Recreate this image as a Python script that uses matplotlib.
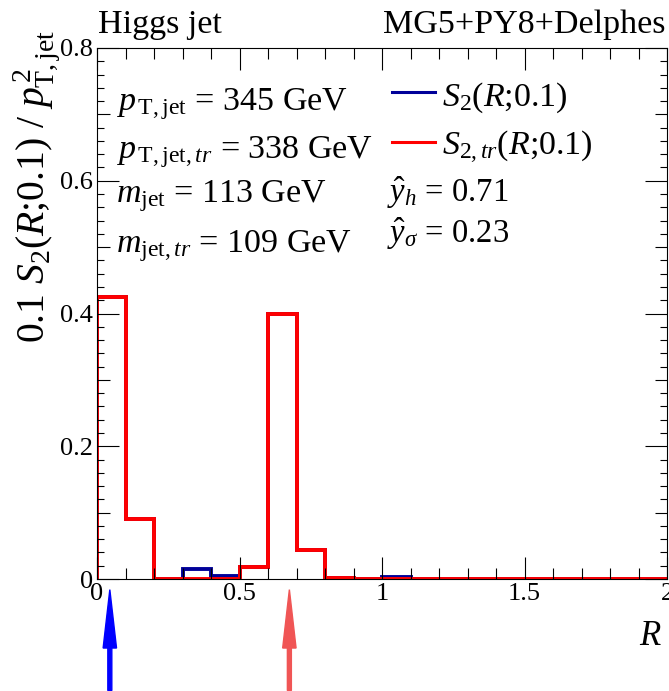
import numpy as np
import matplotlib
matplotlib.use('Agg')
import matplotlib.pyplot as plt
from matplotlib.ticker import MultipleLocator
from matplotlib.patches import FancyArrow

# ROOT-like style, Times-like font
plt.rcParams['font.family'] = ['Liberation Serif', 'DejaVu Serif']
plt.rcParams['mathtext.fontset'] = 'custom'
plt.rcParams['mathtext.rm'] = 'Liberation Serif'
plt.rcParams['mathtext.it'] = 'Liberation Serif:italic'
plt.rcParams['mathtext.bf'] = 'Liberation Serif:bold'

# data: 0.1 S2(R;0.1)/pT^2 in bins of 0.1 from 0 to 2
edges = np.round(np.arange(0, 2.01, 0.1), 2)
s2 = [0.425, 0.090, 0.0, 0.015, 0.004, 0.018, 0.400, 0.044, 0.002, 0.0,
      0.003, 0.0, 0.0, 0.0, 0.0, 0.0, 0.0, 0.0, 0.0, 0.0]
s2_tr = [0.425, 0.090, 0.0, 0.0, 0.0, 0.018, 0.400, 0.044, 0.002, 0.0,
         0.0, 0.0, 0.0, 0.0, 0.0, 0.0, 0.0, 0.0, 0.0, 0.0]
arrow_blue_x = 0.045
arrow_red_x = 0.675

fig = plt.figure(figsize=(6.69, 6.91), dpi=100)
ax = fig.add_axes([97/669, 112/691, 570/669, 531/691])

ax.stairs(s2, edges, color='#000099', lw=2.8, baseline=0)
ax.stairs(s2_tr, edges, color='#ff0000', lw=2.8, baseline=0)

ax.set_xlim(0, 2)
ax.set_ylim(0, 0.8)
ax.xaxis.set_major_locator(MultipleLocator(0.5))
ax.xaxis.set_minor_locator(MultipleLocator(0.1))
ax.yaxis.set_major_locator(MultipleLocator(0.2))
ax.yaxis.set_minor_locator(MultipleLocator(0.02))
ax.set_xticks([0, 0.5, 1, 1.5, 2], ['0', '0.5', '1', '1.5', '2'])
ax.set_yticks([0, 0.2, 0.4, 0.6, 0.8], ['0', '0.2', '0.4', '0.6', '0.8'])
ax.tick_params(which='both', direction='in', top=True, right=True, labelsize=19, width=0.8)
ax.tick_params(which='major', length=16, pad=3)
ax.tick_params(which='minor', length=5)
ax.tick_params(axis='x', which='minor', length=8)
for sp in ax.spines.values():
    sp.set_linewidth(0.8)

# medium ticks at 0.1 on y
for tick, loc in zip(ax.yaxis.get_minor_ticks(), ax.yaxis.get_minorticklocs()):
    if abs(loc * 10 - round(loc * 10)) < 1e-6:
        tick.tick1line.set_markersize(9)
        tick.tick2line.set_markersize(9)

ax.set_ylabel(r'0.1 $S_2(R$;0.1) / $p^{\,2}_{\mathrm{T,jet}}$', fontsize=28.5,
              ha='right', va='center')
ax.yaxis.set_label_coords(-0.105, 1.034)
ax.text(0.991, -0.124, r'$R$', transform=ax.transAxes, fontsize=25, ha='right', va='baseline')

ax.text(0.002, 1.028, 'Higgs jet', transform=ax.transAxes, fontsize=24.5, ha='left', va='baseline')
ax.text(0.997, 1.028, 'MG5+PY8+Delphes', transform=ax.transAxes, fontsize=24.5, ha='right', va='baseline')

fs = 24.5
lx = 0.033
ax.text(lx, 0.883, r'$p_{\,\mathrm{T,jet}}$ = 345 GeV', transform=ax.transAxes, fontsize=fs, va='baseline')
ax.text(lx, 0.793, r'$p_{\,\mathrm{T,jet},tr}$ = 338 GeV', transform=ax.transAxes, fontsize=fs, va='baseline')
ax.text(lx, 0.710, r'$m_{\mathrm{jet}}$ = 113 GeV', transform=ax.transAxes, fontsize=fs, va='baseline')
ax.text(lx, 0.616, r'$m_{\mathrm{jet},tr}$ = 109 GeV', transform=ax.transAxes, fontsize=fs, va='baseline')

ax.plot([0.518, 0.593], [(579 - 92) / 531] * 2, color='#000099', lw=2.2, transform=ax.transAxes)
ax.plot([0.518, 0.593], [(579 - 142) / 531] * 2, color='#ff0000', lw=2.2, transform=ax.transAxes)
ax.text(0.605, 0.892, r'$S_2(R$;0.1)', transform=ax.transAxes, fontsize=fs, va='baseline')
ax.text(0.605, 0.798, r'$S_{2,tr}(R$;0.1)', transform=ax.transAxes, fontsize=fs, va='baseline')
ax.text(0.508, 0.710, r'$\hat{y}_h$ = 0.71', transform=ax.transAxes, fontsize=23.5, va='baseline')
ax.text(0.508, 0.633, r'$\hat{y}_\sigma$ = 0.23', transform=ax.transAxes, fontsize=23.5, va='baseline')

# arrows below the axis
tr = ax.get_xaxis_transform()
for xa, col in [(arrow_blue_x, '#0000ff'), (arrow_red_x, '#f05555')]:
    ax.add_patch(FancyArrow(xa, -0.21, 0, 0.19, width=0.014, head_width=0.047,
                            head_length=0.11, length_includes_head=True,
                            color=col, transform=tr, clip_on=False))

fig.savefig('out.png', dpi=100)
